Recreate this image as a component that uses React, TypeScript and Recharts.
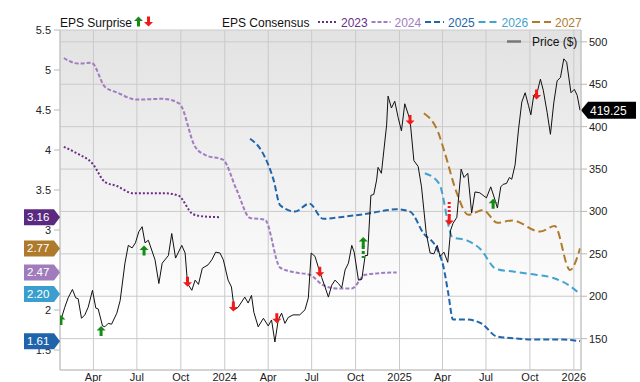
import React from 'react'
import {
  ComposedChart,
  Line,
  Scatter,
  XAxis,
  YAxis,
  CartesianGrid,
  ReferenceLine,
  ReferenceArea,
} from 'recharts'

// day numbers count from 2023-01-01
const BASE = Date.UTC(2023, 0, 1)
const dayOf = (s: string) => Math.round((Date.parse(s) - BASE) / 86400000)

const tickDates = [
  '2023-04-01', '2023-07-01', '2023-10-01', '2024-01-01',
  '2024-04-01', '2024-07-01', '2024-10-01', '2025-01-01',
  '2025-04-01', '2025-07-01', '2025-10-01', '2026-01-01',
]
const tickLabels = ['Apr', 'Jul', 'Oct', '2024', 'Apr', 'Jul', 'Oct', '2025', 'Apr', 'Jul', 'Oct', '2026']
const epsTicks = [1.5, 2, 2.5, 3, 3.5, 4, 4.5, 5, 5.5]
const priceTicks = [150, 200, 250, 300, 350, 400, 450, 500]

const priceDays = [
  22, 30, 37, 46, 53, 58, 65, 72, 79, 88,
  95, 100, 109, 114, 121, 128, 139, 146, 156, 163,
  171, 178, 185, 192, 198, 205, 219, 227, 234, 247,
  254, 262, 275, 282, 287, 296, 303, 310, 318, 330,
  338, 346, 355, 362, 372, 379, 385, 393, 407, 414,
  421, 426, 435, 446, 456, 463, 470, 477, 484, 491,
  498, 508, 522, 533, 540, 546, 554, 561, 568, 575,
  582, 589, 596, 603, 610, 617, 624, 631, 636, 645,
  652, 659, 664, 671, 677, 683, 686, 693, 704, 707,
  714, 721, 728, 735, 742, 753, 761, 770, 777, 787,
  795, 803, 810, 816, 824, 832, 838, 843, 851, 860,
  866, 874, 882, 889, 899, 906, 913, 922, 929, 936,
  943, 948, 955, 961, 966, 973, 980, 987, 994, 1001,
  1006, 1012, 1019, 1026, 1032, 1040, 1047, 1054, 1061, 1068,
  1075, 1081, 1090, 1097, 1103, 1109,
]
const priceVals = [
  172, 187, 198, 208, 198, 197, 174, 178, 187, 207,
  186, 185, 165, 164, 168, 167, 180, 195, 239, 260,
  257, 263, 276, 282, 263, 266, 243, 215, 239, 248,
  274, 245, 260, 251, 215, 207, 219, 214, 233, 237,
  243, 252, 251, 243, 219, 211, 184, 187, 199, 192,
  201, 181, 164, 174, 165, 172, 146, 172, 180, 168,
  175, 178, 178, 184, 198, 251, 247, 234, 222, 211,
  199, 213, 219, 215, 210, 231, 239, 260, 252, 219,
  220, 248, 248, 319, 320, 337, 352, 345, 402, 436,
  422, 430, 411, 395, 427, 408, 360, 353, 329, 274,
  251, 250, 260, 247, 252, 240, 278, 286, 293, 350,
  340, 345, 298, 323, 322, 319, 316, 329, 317, 304,
  329, 332, 333, 340, 338, 355, 396, 429, 440, 425,
  414, 437, 440, 456, 443, 417, 391, 428, 454, 458,
  480, 476, 440, 444, 437, 419.25,
]

// EPS consensus per fiscal year
const eps2023Days = [28, 55, 88, 114, 139, 173, 240, 268, 298, 320, 356]
const eps2023Vals = [4.04, 3.96, 3.83, 3.6, 3.55, 3.46, 3.46, 3.43, 3.2, 3.17, 3.16]

const eps2024Days = [28, 58, 86, 114, 139, 181, 236, 270, 303, 327, 361, 390, 418, 449, 481, 512, 543, 571, 599, 631, 659, 690, 725]
const eps2024Vals = [5.15, 5.08, 5.09, 4.79, 4.72, 4.63, 4.64, 4.58, 4.04, 3.93, 3.88, 3.5, 3.15, 3.13, 2.53, 2.47, 2.44, 2.31, 2.27, 2.27, 2.44, 2.46, 2.47]

const eps2025Days = [418, 443, 467, 481, 512, 542, 571, 606, 634, 669, 697, 725, 753, 781, 809, 823, 833, 843, 872, 903, 934, 962, 1025, 1074, 1109]
const eps2025Vals = [4.14, 3.98, 3.63, 3.31, 3.23, 3.33, 3.14, 3.16, 3.18, 3.21, 3.24, 3.26, 3.23, 2.96, 2.77, 2.54, 2.21, 1.88, 1.88, 1.83, 1.67, 1.65, 1.63, 1.63, 1.61]

const eps2026Days = [784, 814, 842, 872, 899, 934, 969, 1004, 1053, 1088, 1109]
const eps2026Vals = [3.71, 3.58, 2.91, 2.87, 2.77, 2.51, 2.48, 2.45, 2.4, 2.3, 2.2]

const eps2027Days = [782, 812, 826, 851, 875, 906, 936, 967, 1025, 1056, 1088, 1109]
const eps2027Vals = [4.46, 4.22, 3.96, 3.46, 3.19, 3.25, 3.09, 3.12, 2.98, 3.05, 2.5, 2.77]

// EPS surprises (placed on the price line)
const beatDays = [22, 106, 196, 655, 927]
const beatPrices = [172, 159, 254, 264, 309]
const beatBig = [false, false, false, true, false]
const missDays = [287, 383, 474, 564, 753, 835, 1018]
const missPrices = [217, 188, 174, 229, 408, 290, 438]
const missBig = [false, false, false, false, false, true, false]

const zip = (days: number[], vals: number[], key: string) =>
  days.map((d, i) => ({ d, [key]: vals[i] }))

const series = [
  { year: '2023', color: '#6b2d86', badge: '#5b2a80', dash: '2 2', data: zip(eps2023Days, eps2023Vals, 'v') },
  { year: '2024', color: '#a27cc1', badge: '#a07cbc', dash: '4 2', data: zip(eps2024Days, eps2024Vals, 'v') },
  { year: '2025', color: '#2166ac', badge: '#1f63aa', dash: '6 3', data: zip(eps2025Days, eps2025Vals, 'v') },
  { year: '2026', color: '#41a3d1', badge: '#3a9fcf', dash: '7 4', data: zip(eps2026Days, eps2026Vals, 'v') },
  { year: '2027', color: '#b07b2c', badge: '#ae7a2c', dash: '8 4', data: zip(eps2027Days, eps2027Vals, 'v') },
]

const priceData = zip(priceDays, priceVals, 'p')
const beatData = beatDays.map((d, i) => ({ d, p: beatPrices[i], big: beatBig[i] }))
const missData = missDays.map((d, i) => ({ d, p: missPrices[i], big: missBig[i] }))
const lastPrice = priceVals[priceVals.length - 1]

// latest consensus of each year -> badge on the left axis
const badgeColor = new Map<number, string>()
series.forEach((s) => badgeColor.set(s.data[s.data.length - 1].v as number, s.badge))
const badgeValues = [...badgeColor.keys()]
const leftTicks = [...epsTicks, ...badgeValues]

const GREEN = '#158a15'
const RED = '#f01a1a'

const Arrow = ({ x, y, up, big }: { x: number; y: number; up: boolean; big?: boolean }) => {
  const s = up ? 1 : -1
  const color = up ? GREEN : RED
  const head = `M${x},${y - 5 * s} L${x + 4.5},${y - 0.5 * s} L${x + 1.5},${y - 0.5 * s} L${x + 1.5},${y + 5 * s} L${x - 1.5},${y + 5 * s} L${x - 1.5},${y - 0.5 * s} L${x - 4.5},${y - 0.5 * s} Z`
  return (
    <g>
      {big && up && (
        <line x1={x} x2={x} y1={y + 4} y2={y + 16} stroke={color} strokeWidth={3} strokeDasharray="3 2" />
      )}
      {big && !up && (
        <line x1={x} x2={x} y1={y - 4} y2={y - 19} stroke={color} strokeWidth={3} strokeDasharray="2 2" />
      )}
      <path d={head} fill={color} />
    </g>
  )
}

// left axis tick: normal label, or a badge for the latest consensus values
const LeftTick = (props: any) => {
  const { x, y, payload } = props
  const color = badgeColor.get(payload.value)
  if (color) {
    const tip = x + 9
    return (
      <g>
        <path
          d={`M${tip - 36},${y - 8} L${tip - 6},${y - 8} L${tip},${y} L${tip - 6},${y + 8} L${tip - 36},${y + 8} Z`}
          fill={color}
        />
        <text x={tip - 33} y={y + 4} fill="#fff" fontSize={11.5}>{payload.value.toFixed(2)}</text>
      </g>
    )
  }
  // a label sitting right under a badge is hidden by it
  if (badgeValues.some((b) => Math.abs(b - payload.value) < 0.06)) return null
  return (
    <text x={x} y={y} dy="0.355em" textAnchor="end" fontSize={11} fill="#222">{payload.value}</text>
  )
}

const PriceBadge = (props: any) => {
  const { viewBox, text } = props
  if (!viewBox) return null
  const x = viewBox.x + viewBox.width
  const y = viewBox.y
  return (
    <g>
      <path
        d={`M${x},${y} L${x + 7},${y - 8.5} L${x + 55},${y - 8.5} L${x + 55},${y + 8.5} L${x + 7},${y + 8.5} Z`}
        fill="#000"
      />
      <text x={x + 9} y={y + 4.5} fill="#fff" fontSize={12}>{text}</text>
    </g>
  )
}

const XTick = (props: any) => {
  const { x, y, payload, index } = props
  return (
    <text x={x} y={y + 11} textAnchor="middle" fontSize={11} fill="#222">
      {tickLabels[index] ?? payload.value}
    </text>
  )
}

export default function App() {
  const xTicks = tickDates.map(dayOf)
  return (
    <div style={{ position: 'absolute', left: 0, top: 0, width: 640, height: 382, background: '#fff', fontFamily: '"Liberation Sans", Arial, sans-serif' }}>
      <svg width={0} height={0} style={{ position: 'absolute' }}>
        <defs>
          <linearGradient id="plotBg" x1="0" y1="0" x2="0" y2="1">
            <stop offset="0%" stopColor="#e2e2e2" />
            <stop offset="85%" stopColor="#ffffff" />
            <stop offset="100%" stopColor="#ffffff" />
          </linearGradient>
        </defs>
      </svg>
      <ComposedChart width={640} height={382} margin={{ top: 30, right: 0, bottom: 0, left: 0 }}>
        <CartesianGrid yAxisId="px" stroke="#cacaca" fill="url(#plotBg)" fillOpacity={1} />
        <XAxis
          dataKey="d"
          type="number"
          domain={[20, 1111]}
          ticks={xTicks}
          allowDataOverflow
          height={12}
          tickSize={0}
          tickMargin={0}
          tickLine={false}
          axisLine={{ stroke: '#c2c2c2' }}
          tick={<XTick />}
          interval={0}
        />
        <YAxis
          yAxisId="eps"
          orientation="left"
          type="number"
          domain={[1.25, 5.5]}
          ticks={leftTicks}
          allowDataOverflow
          width={60}
          tickSize={6}
          tickMargin={3}
          tick={<LeftTick />}
          tickLine={{ stroke: '#b8b8b8' }}
          axisLine={{ stroke: '#c2c2c2' }}
          interval={0}
        />
        <YAxis
          yAxisId="px"
          orientation="right"
          type="number"
          domain={[113, 514]}
          ticks={priceTicks}
          allowDataOverflow
          width={59}
          tickSize={6}
          tickMargin={2}
          tick={{ fontSize: 11, fill: '#222' }}
          tickLine={{ stroke: '#b8b8b8' }}
          axisLine={{ stroke: '#c2c2c2' }}
          interval={0}
        />
        <ReferenceArea yAxisId="px" fill="none" stroke="#c6c6c6" ifOverflow="visible" />

        {series.map((s) => (
          <Line
            key={s.year}
            yAxisId="eps"
            data={s.data}
            dataKey="v"
            type="monotone"
            stroke={s.color}
            strokeWidth={2}
            strokeDasharray={s.dash}
            dot={false}
            activeDot={false}
            isAnimationActive={false}
          />
        ))}

        <Line
          yAxisId="px"
          data={priceData}
          dataKey="p"
          type="linear"
          stroke="#111"
          strokeWidth={1}
          dot={false}
          activeDot={false}
          isAnimationActive={false}
        />

        <Scatter
          yAxisId="px"
          data={beatData}
          dataKey="p"
          isAnimationActive={false}
          shape={(p: any) => <Arrow x={p.cx} y={p.cy} up big={p.payload?.big} />}
        />
        <Scatter
          yAxisId="px"
          data={missData}
          dataKey="p"
          isAnimationActive={false}
          shape={(p: any) => <Arrow x={p.cx} y={p.cy} up={false} big={p.payload?.big} />}
        />

        <ReferenceLine
          yAxisId="px"
          y={lastPrice}
          stroke="none"
          ifOverflow="visible"
          label={(p: any) => <PriceBadge viewBox={p.viewBox} text={lastPrice.toFixed(2)} />}
        />
      </ComposedChart>

      {/* legend */}
      <svg width={640} height={382} style={{ position: 'absolute', left: 0, top: 0, pointerEvents: 'none' }}>
        <text x={60} y={27} fontSize={12} fill="#111">EPS Surprise</text>
        <Arrow x={138.5} y={21.5} up />
        <Arrow x={148.5} y={21.5} up={false} />
        <text x={222} y={27} fontSize={12} fill="#111">EPS Consensus</text>
        {series.map((s, i) => {
          const x0 = 318 + i * 53.5
          return (
            <g key={s.year}>
              <line x1={x0} x2={x0 + 19} y1={22} y2={22} stroke={s.color} strokeWidth={2} strokeDasharray={s.dash} />
              <text x={x0 + 23} y={27} fontSize={12} fill={s.color}>{s.year}</text>
            </g>
          )
        })}
        <line x1={507} x2={521} y1={41.5} y2={41.5} stroke="#777" strokeWidth={2.5} />
        <text x={532} y={46} fontSize={12} fill="#111">Price ($)</text>
      </svg>
    </div>
  )
}
